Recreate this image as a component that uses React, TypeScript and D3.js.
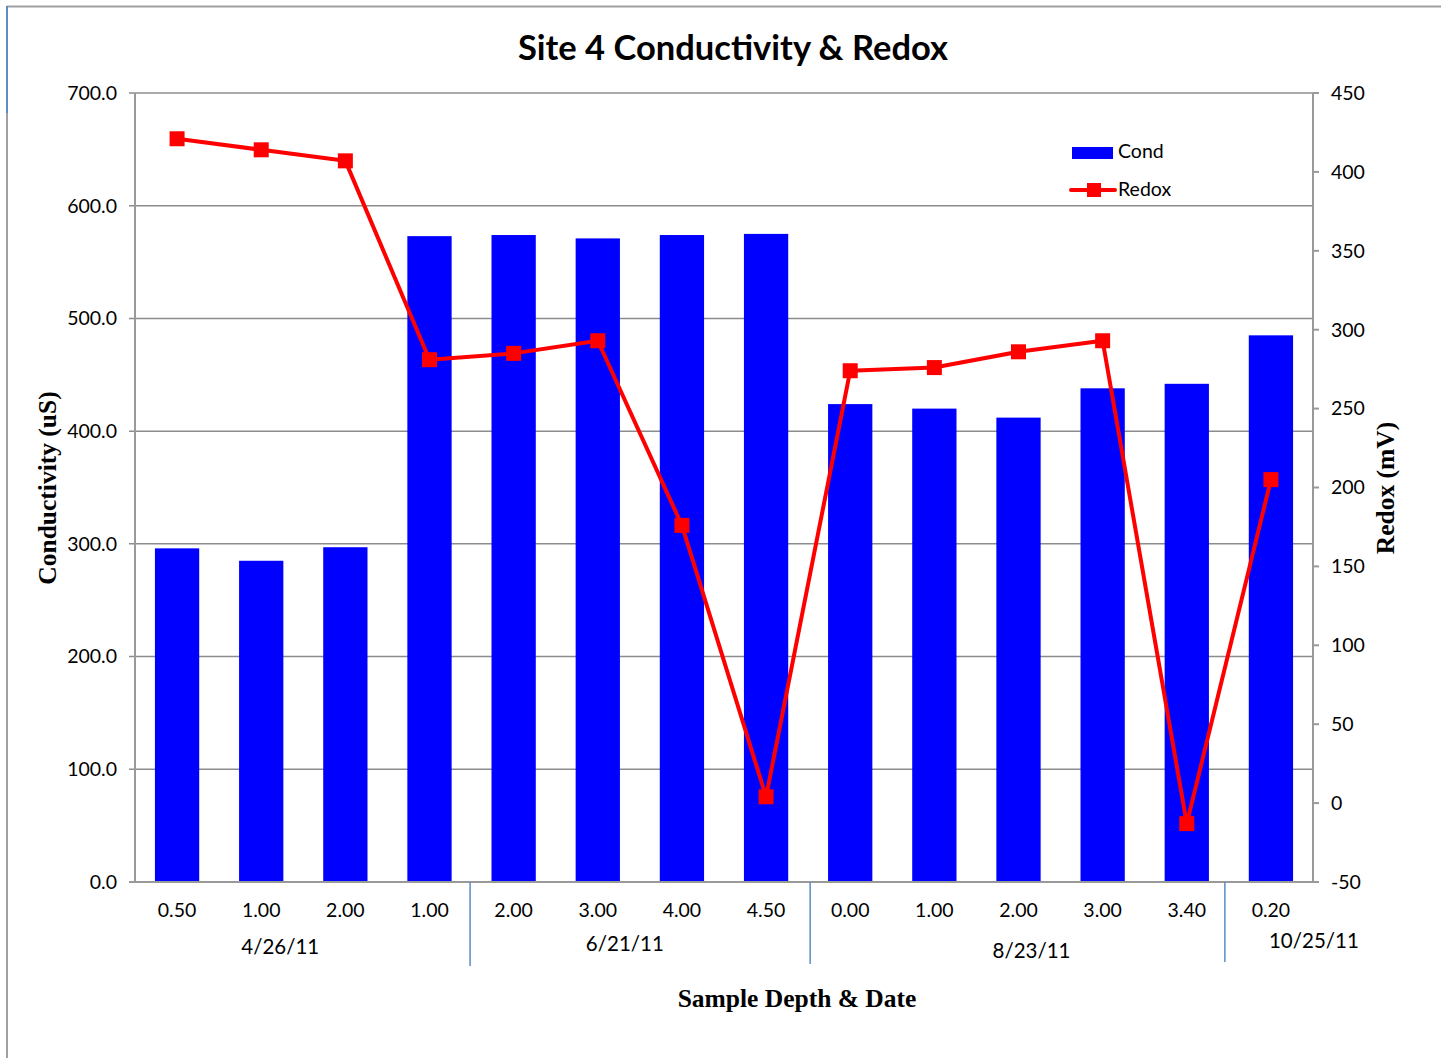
import React from "react";
import * as d3 from "d3";

const depths = ["0.50", "1.00", "2.00", "1.00", "2.00", "3.00", "4.00", "4.50", "0.00", "1.00", "2.00", "3.00", "3.40", "0.20"];
const condValues = [296, 285, 297, 573, 574, 571, 574, 575, 424, 420, 412, 438, 442, 485];
const redoxValues = [421, 414, 407, 281, 285, 293, 176, 4, 274, 276, 286, 293, -13, 205];
const groupLabels = ["4/26/11", "6/21/11", "8/23/11", "10/25/11"];
const groupStarts = [0, 4, 8, 13];
const groupEnds = [4, 8, 13, 14];
const leftTicks = [0, 100, 200, 300, 400, 500, 600, 700];
const rightTicks = [-50, 0, 50, 100, 150, 200, 250, 300, 350, 400, 450];

const W = 1441, H = 1058;
const L = 135, R = 1313, T = 93, B = 882;
const sans = "Lato, 'Open Sans', sans-serif";
const serif = "'Liberation Serif', 'DejaVu Serif', serif";
const gridColor = "#8c8c8c";
const sepColor = "#5b8cc8";
// group label layout offsets (dx, baseline y)
const groupLabelDx = [-23, -15, 13, 43];
const groupLabelY = [954, 951, 958, 948];
const sepDx = [-1.5, 2, -4];

export default function App() {
  const x = d3.scaleBand<number>().domain(d3.range(depths.length)).range([L, R])
    .paddingInner(0.9 / 1.9).paddingOuter(0.45 / 1.9);
  const step = x.step();
  const yL = d3.scaleLinear().domain([0, 700]).range([B, T]);
  const yR = d3.scaleLinear().domain([-50, 450]).range([B, T]);
  const cx = (i: number) => (x(i) as number) + x.bandwidth() / 2;
  const line = d3.line<number>().x((_, i) => cx(i)).y((d) => yR(d));
  const slotStart = (i: number) => L + step * i;

  return (
    <svg width={W} height={H} style={{ display: "block", position: "absolute", left: 0, top: 0 }}>
      <rect x={0} y={0} width={W} height={H} fill="#fff" />
      {/* frame */}
      <line x1={7} y1={6.5} x2={W} y2={6.5} stroke="#a0a0a0" strokeWidth={2} />
      <line x1={7} y1={6} x2={7} y2={H} stroke="#a0a0a0" strokeWidth={2} />
      <line x1={7} y1={6} x2={7} y2={113} stroke="#5b8cc8" strokeWidth={2} />

      {/* gridlines */}
      {leftTicks.map((t) => (
        <line key={"g" + t} x1={L - 6} x2={R} y1={yL(t)} y2={yL(t)} stroke={gridColor} strokeWidth={1.5} />
      ))}
      {/* bars */}
      {condValues.map((v, i) => (
        <rect key={"b" + i} x={x(i)} y={yL(v)} width={x.bandwidth()} height={B - yL(v)} fill="#0000ff" />
      ))}
      {/* axes */}
      <line x1={L} x2={L} y1={T} y2={B} stroke="#999" strokeWidth={2} />
      <line x1={R} x2={R} y1={T} y2={B} stroke="#999" strokeWidth={2} />
      <line x1={L - 6} x2={R} y1={B} y2={B} stroke="#999" strokeWidth={2} />
      {rightTicks.map((t) => (
        <line key={"rt" + t} x1={R} x2={R + 6} y1={yR(t)} y2={yR(t)} stroke="#999" strokeWidth={2} />
      ))}
      {leftTicks.map((t) => (
        <text key={"lt" + t} x={117} y={yL(t)} dy="0.35em" textAnchor="end" fontFamily={sans} fontSize={19.5} fill="#000">
          {t.toFixed(1)}
        </text>
      ))}
      {rightTicks.map((t) => (
        <text key={"rl" + t} x={1331} y={yR(t)} dy="0.35em" textAnchor="start" fontFamily={sans} fontSize={19.5} fill="#000">
          {t}
        </text>
      ))}
      {/* redox line */}
      <path d={line(redoxValues) || ""} fill="none" stroke="#ff0000" strokeWidth={4} strokeLinejoin="round" />
      {redoxValues.map((v, i) => (
        <rect key={"m" + i} x={cx(i) - 7.5} y={yR(v) - 7.5} width={15} height={15} fill="#ff0000" />
      ))}
      {/* category labels */}
      {depths.map((d, i) => (
        <text key={"c" + i} x={cx(i)} y={917} textAnchor="middle" fontFamily={sans} fontSize={19.5} fill="#000">
          {d}
        </text>
      ))}
      {/* group separators */}
      {groupStarts.slice(1).map((s, k) => (
        <line key={"s" + k} x1={slotStart(s) + sepDx[k]} x2={slotStart(s) + sepDx[k]} y1={B} y2={966 - k * 2} stroke={sepColor} strokeWidth={1.5} />
      ))}
      {groupLabels.map((g, k) => (
        <text key={"gl" + k} x={(slotStart(groupStarts[k]) + slotStart(groupEnds[k])) / 2 + groupLabelDx[k]} y={groupLabelY[k]}
          textAnchor="middle" fontFamily={sans} fontSize={20.5} fill="#000">
          {g}
        </text>
      ))}
      {/* titles */}
      <text x={733} y={60} textAnchor="middle" fontFamily={sans} fontWeight="bold" fontSize={34.5} fill="#000">
        Site 4 Conductivity &amp; Redox
      </text>
      <text x={797} y={1007} textAnchor="middle" fontFamily={serif} fontWeight="bold" fontSize={25.5} fill="#000">
        Sample Depth &amp; Date
      </text>
      <text transform={`translate(56,488) rotate(-90)`} textAnchor="middle" fontFamily={serif} fontWeight="bold" fontSize={25.5} fill="#000">
        Conductivity (uS)
      </text>
      <text transform={`translate(1394,488) rotate(-90)`} textAnchor="middle" fontFamily={serif} fontWeight="bold" fontSize={25.5} fill="#000">
        Redox (mV)
      </text>
      {/* legend */}
      <rect x={1072} y={147} width={41} height={12} fill="#0000ff" />
      <text x={1118} y={158} fontFamily={sans} fontSize={19.5} fill="#000">Cond</text>
      <line x1={1071} x2={1115} y1={190} y2={190} stroke="#ff0000" strokeWidth={4} strokeLinecap="round" />
      <rect x={1087} y={183} width={14} height={14} fill="#ff0000" />
      <text x={1118} y={196} fontFamily={sans} fontSize={19.5} fill="#000">Redox</text>
    </svg>
  );
}
